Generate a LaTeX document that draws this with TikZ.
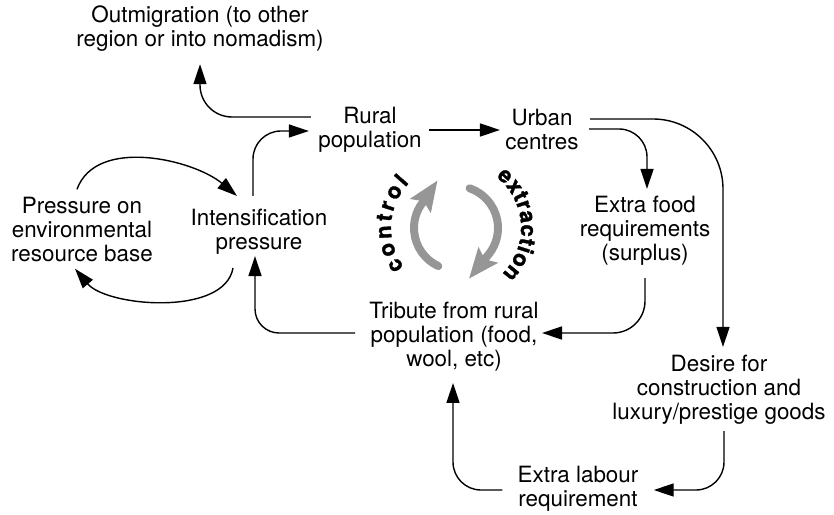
\documentclass[tikz,border=0pt]{standalone}
\usepackage{fontspec}
\setmainfont{TeX Gyre Heros}
\newfontfamily\cycfont{TeX Gyre Heros}[BoldFeatures={FakeBold=1.5}]
\usepackage{tikz}
\usetikzlibrary{arrows.meta, decorations.text}
\definecolor{cyclegray}{RGB}{150, 150, 150}

\tikzset{
  lbl/.style={align=center, inner sep=0pt, font=\fontsize{11.2}{12}\selectfont},
  arr/.style={-{Triangle[length=10pt, width=6.5pt]}, line width=0.7pt},
  cyc/.style={cyclegray, line width=4pt, line cap=round,
    -{Stealth[length=15pt, width=12pt, inset=2.5pt]}},
}

\begin{document}
\begin{tikzpicture}[x=0.5pt, y=0.5pt]
		\def\rc{42}  % radius of the inner cycle
		
		\useasboundingbox (0,0) rectangle (834,514);
		
		% --- labels ---
		\node[lbl] (outm)    at (200,485) {Outmigration (to other\\region or into nomadism)};
		\node[lbl] (rural)   at (370,384) {Rural\\population};
		\node[lbl] (urban)   at (542,384) {Urban\\centres};
		\node[lbl] (inten)   at (259,282) {Intensification\\pressure};
		\node[lbl] (press)   at (82,284)  {Pressure on\\environmental\\resource base};
		\node[lbl] (food)    at (645,283) {Extra food\\requirements\\(surplus)};
		\node[lbl] (tribute) at (454,177) {Tribute from rural\\population (food,\\wool, etc)};
		\node[lbl] (desire)  at (719,124) {Desire for\\construction and\\luxury/prestige goods};
		\node[lbl] (labour)  at (578,25)  {Extra labour\\requirement};
		
		% --- top row ---
		\draw[arr, rounded corners=16pt] ([shift={(-7,13)}]rural.west) -| ([shift={(0,-12)}]outm.south);
		\draw[arr, rounded corners=14pt] ([shift={(-6,13)}]inten.north) |- ([shift={(-9,-1)}]rural.west);
		\draw[arr, shorten <=3.5pt, shorten >=2.5pt] (rural) -- (urban);
		
		% --- right side ---
		\draw[arr, rounded corners=14pt] ([shift={(10,1)}]urban.east) -| ([shift={(2,7)}]food.north);
		\draw[arr, rounded corners=35pt] ([shift={(11,11)}]urban.east) -| ([shift={(4,8)}]desire.north);
		\draw[arr, rounded corners=16pt] ([shift={(0,-12)}]food.south) |- ([shift={(3,4)}]tribute.east);
		\draw[arr, rounded corners=14pt] ([shift={(5,-6)}]desire.south) |- ([shift={(15,-1)}]labour.east);
		\draw[arr, rounded corners=14pt] ([shift={(-15,-1)}]labour.west) -| ([shift={(-1,-11)}]tribute.south);
		
		% --- left side ---
		\draw[arr, rounded corners=12pt] ([shift={(-14,4)}]tribute.west) -| ([shift={(-4,-1)}]inten.south);
		\draw[arr] ([shift={(-5,8)}]press.north) to[out=70, in=140, looseness=0.9] ([shift={(-22,13)}]inten.north);
		\draw[arr] ([shift={(-26,-13)}]inten.south) to[out=-100, in=-50, looseness=0.8] ([shift={(-7,-6)}]press.south);
		
		% --- control / extraction cycle ---
		\coordinate (hub) at (456,286);
		\draw[cyc] ([shift={(245:\rc)}]hub) arc[start angle=245, end angle=150, radius=\rc] -- ++(56:32);
		\draw[cyc] ([shift={(71:\rc)}]hub) arc[start angle=71, end angle=-38, radius=\rc] -- ++(231:32);
		
		\path[decorate, decoration={text along path, text align={fit to path},
		    text={|\cycfont\bfseries\fontsize{11}{12}\selectfont|control}}]
		  ([shift={(217:65)}]hub) arc[start angle=217, end angle=136, radius=65];
		\path[decorate, decoration={text along path, text align={fit to path},
		    text={|\cycfont\bfseries\fontsize{11}{12}\selectfont|extraction}}]
		  ([shift={(52:65)}]hub) arc[start angle=52, end angle=-45, radius=65];
		
	\end{tikzpicture}
\end{document}
